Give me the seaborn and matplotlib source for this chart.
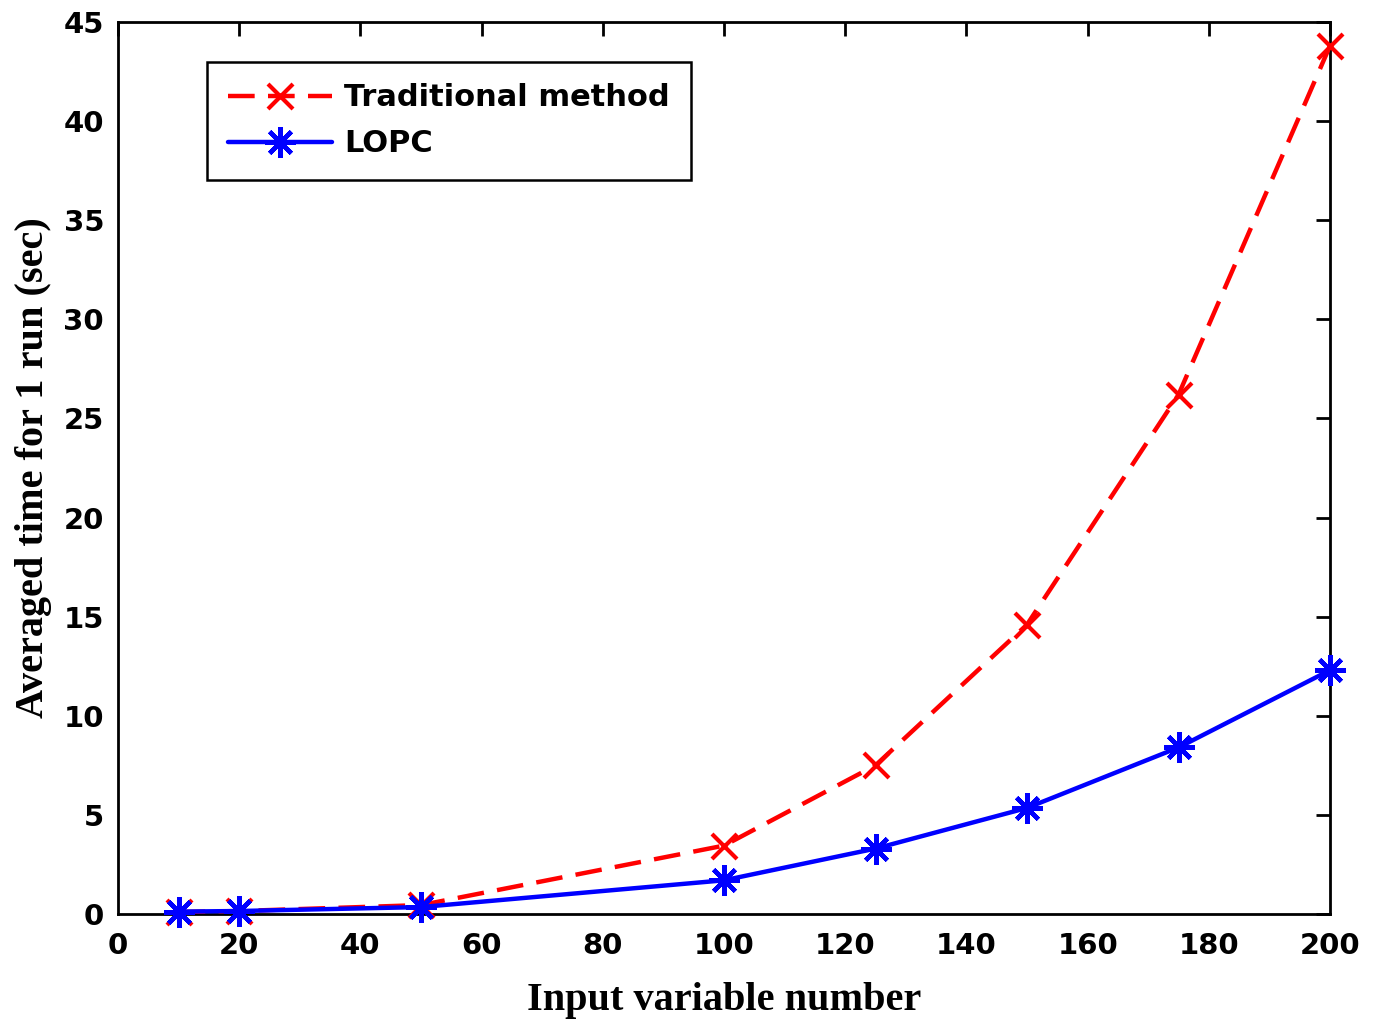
import matplotlib
matplotlib.use("Agg")
import matplotlib.pyplot as plt
import numpy as np
import pandas as pd
import seaborn as sns

OUT = "out.png"

input_vars = [10, 20, 50, 100, 125, 150, 175, 200]
traditional_time = [0.1, 0.15, 0.45, 3.45, 7.5, 14.6, 26.2, 43.8]
lopc_time = [0.12, 0.15, 0.35, 1.7, 3.3, 5.35, 8.4, 12.3]

x_ticks = [0, 20, 40, 60, 80, 100, 120, 140, 160, 180, 200]
y_ticks = [0, 5, 10, 15, 20, 25, 30, 35, 40, 45]

ASTERISK = (8, 2, 0)


def main():
    sns.set_theme(style="white")
    plt.rcParams["font.family"] = ["DejaVu Sans"]
    plt.rcParams["text.color"] = "black"
    plt.rcParams["xtick.color"] = "black"
    plt.rcParams["ytick.color"] = "black"
    plt.rcParams["axes.labelcolor"] = "black"

    df_trad = pd.DataFrame({"x": input_vars, "y": traditional_time})
    df_lopc = pd.DataFrame({"x": input_vars, "y": lopc_time})

    fig = plt.figure(figsize=(13.78, 10.21), dpi=100)
    ax = fig.add_axes([0.0856, 0.1048, 0.8796, 0.8737])

    sns.lineplot(data=df_trad, x="x", y="y", ax=ax, color="#ff0000",
                 linestyle=(0, (6, 3)), linewidth=3.2, marker="x",
                 markersize=18, markeredgewidth=3, markeredgecolor="#ff0000",
                 label="Traditional method", clip_on=False, zorder=3)
    sns.lineplot(data=df_lopc, x="x", y="y", ax=ax, color="#0000ff",
                 linestyle="-", linewidth=3.2, marker=ASTERISK,
                 markersize=22, markeredgewidth=3.2, markeredgecolor="#0000ff",
                 label="LOPC", clip_on=False, zorder=4)

    ax.set_xlim(0, 200)
    ax.set_ylim(0, 45)
    ax.set_xticks(x_ticks)
    ax.set_yticks(y_ticks)
    ax.tick_params(direction="in", length=10, width=2, top=True, right=True,
                   labelsize=21, color="black", labelcolor="black")
    ax.tick_params(axis="x", pad=13)
    ax.tick_params(axis="y", pad=10)
    for lab in ax.get_xticklabels() + ax.get_yticklabels():
        lab.set_fontweight("bold")
    for sp in ax.spines.values():
        sp.set_linewidth(2)
        sp.set_color("black")

    ax.set_xlabel("Input variable number", fontsize=29, fontweight="bold",
                  family="Liberation Serif", labelpad=16)
    ax.set_ylabel("Averaged time for 1 run (sec)", fontsize=29,
                  fontweight="bold", family="Liberation Serif", labelpad=8)

    leg = ax.legend(loc="upper left", bbox_to_anchor=(0.0734, 0.955),
                    borderaxespad=0, fancybox=False, edgecolor="black",
                    framealpha=1, prop={"size": 22, "weight": "bold"},
                    handlelength=3.4, borderpad=0.7, labelspacing=0.55,
                    handletextpad=0.4)
    leg.get_frame().set_linewidth(1.8)

    fig.savefig(OUT, dpi=100)
    plt.close(fig)


if __name__ == "__main__":
    main()
